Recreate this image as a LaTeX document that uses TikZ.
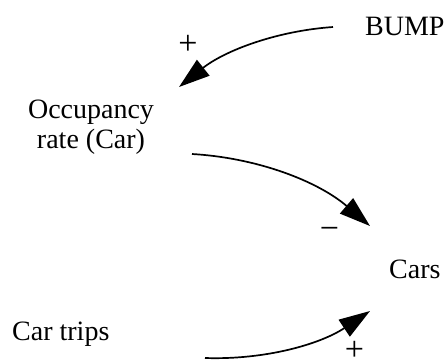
\documentclass[tikz,border=0pt]{standalone}
\usepackage{fontspec}
\setmainfont{Liberation Serif}
\usetikzlibrary{arrows.meta}
\begin{document}
\begin{tikzpicture}[x=1pt,y=-1pt,
  lbl/.style={inner sep=0pt,font=\fontsize{28}{30}\selectfont},
  sgn/.style={inner sep=0pt,font=\fontsize{34}{36}\selectfont},
  link/.style={line width=1.7pt,-{Triangle[length=31pt,width=20pt]}}]
\useasboundingbox (0,0) rectangle (446,360);
\node[lbl,anchor=base west] (bump) at (365,35) {BUMP};
\node[lbl,anchor=base,align=center] (occ) at (91,148) {Occupancy\\rate (Car)};
\node[lbl,anchor=base west] (cars) at (389,278) {Cars};
\node[lbl,anchor=base west] (trips) at (12,340) {Car trips};
\coordinate (s1) at (333,27);
\coordinate (e1) at (179,87);
\coordinate (s2) at (192,154);
\coordinate (e2) at (370,226);
\coordinate (s3) at (205,358);
\coordinate (e3) at (370,311);
\draw[link] (s1) .. controls (275.7,31) and (224.3,51) .. (e1);
\draw[link] (s2) .. controls (259.3,158) and (318.7,182) .. (e2);
\draw[link] (s3) .. controls (265,360) and (320,344.3) .. (e3);
\node[sgn] (p1) at (188,45) {+};
\node[sgn] (m2) at (329.5,233) {−};
\node[sgn] (p3) at (354.5,350.5) {+};
\end{tikzpicture}
\end{document}
